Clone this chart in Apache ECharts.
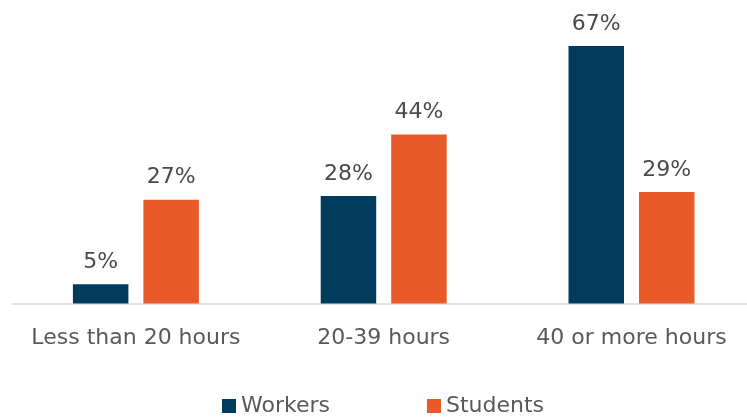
<!DOCTYPE html>
<html>
<head>
<meta charset="utf-8">
<script src="https://cdn.jsdelivr.net/npm/echarts@6/dist/echarts.min.js"></script>
<style>
  html, body { margin: 0; padding: 0; background: #ffffff; overflow: hidden; }
  #wrap { width: 747px; height: 418px; overflow: hidden; }
  /* the plot runs slightly past the right edge, so the canvas is wider than the view */
  #chart { width: 760px; height: 418px; }
</style>
</head>
<body>
<div id="wrap"><div id="chart"></div></div>
<script>
// Weekly hours, share of each group
const categories = ['Less than 20 hours', '20-39 hours', '40 or more hours'];
const workers = [5, 28, 67];
const students = [27, 44, 29];

const FONT = 'DejaVu Sans';
const TEXT = '#595959';

const chart = echarts.init(document.getElementById('chart'), null, { renderer: 'canvas' });

const labelStyle = {
  show: true,
  position: 'top',
  distance: 11,
  formatter: '{c}%',
  color: '#4a4a4a',
  fontFamily: FONT,
  fontSize: 22
};

chart.setOption({
  animation: false,
  grid: { left: 12, top: 34.5, width: 743.4, height: 269, containLabel: false },
  legend: {
    data: ['Workers', 'Students'],
    left: 217,
    top: 390,
    itemWidth: 14,
    itemHeight: 14,
    itemGap: 97,
    icon: 'rect',
    textStyle: { color: TEXT, fontFamily: FONT, fontSize: 22 }
  },
  xAxis: {
    type: 'category',
    data: categories,
    axisLine: { lineStyle: { color: '#d9d9d9', width: 1.5 } },
    axisTick: { show: false },
    axisLabel: { color: TEXT, fontFamily: FONT, fontSize: 22, margin: 24, interval: 0 }
  },
  yAxis: {
    type: 'value',
    min: 0,
    max: 70,
    show: false,
    splitLine: { show: false }
  },
  series: [
    {
      name: 'Workers',
      type: 'bar',
      data: workers,
      barWidth: 55.5,
      barGap: '27%',
      itemStyle: { color: '#003a5d' },
      label: labelStyle
    },
    {
      name: 'Students',
      type: 'bar',
      data: students,
      barWidth: 55.5,
      itemStyle: { color: '#e85a28' },
      label: labelStyle
    }
  ]
});
</script>
</body>
</html>
